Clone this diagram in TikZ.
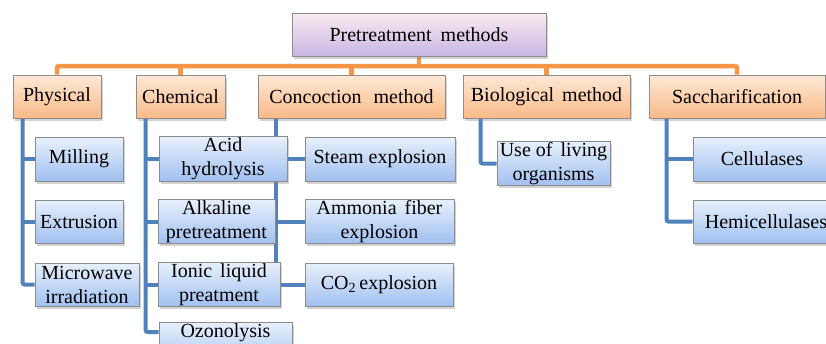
\documentclass[tikz,border=0pt]{standalone}
\usepackage{fontspec}
\setmainfont{Liberation Serif}
\usetikzlibrary{shadows,backgrounds}
\definecolor{orline}{HTML}{F79646}
\definecolor{blline}{HTML}{4F81BD}
\definecolor{bord}{HTML}{8C8C8C}
\tikzset{
  basebox/.style={draw=bord, line width=0.9pt, inner sep=1pt, align=center,
    font=\fontsize{20}{24}\selectfont,
    drop shadow={opacity=0.35, shadow xshift=2pt, shadow yshift=-2.5pt}},
  purplebox/.style={basebox, top color=purple!8!white, bottom color={rgb,255:red,200;green,182;blue,228}},
  orangebox/.style={basebox, top color={rgb,255:red,254;green,232;blue,214}, bottom color={rgb,255:red,250;green,186;blue,136}},
  bluebox/.style={basebox, top color={rgb,255:red,232;green,240;blue,252}, bottom color={rgb,255:red,160;green,192;blue,240}},
  oline/.style={draw=orline, line width=4.5pt, rounded corners=2pt},
  bline/.style={draw=blline, line width=4pt, rounded corners=2pt},
}
\begin{document}
\begin{tikzpicture}[x=1pt, y=-1pt]
\useasboundingbox (0,0) rectangle (826,343);
% top
\node[purplebox, minimum width=254pt, minimum height=43pt] (top) at (419,34.5) {Pretreatment\hspace{4pt} methods};
% level 1
\node[orangebox, minimum width=88pt, minimum height=43pt] (phys) at (57,96.5) {Physical};
\node[orangebox, minimum width=89pt, minimum height=43pt] (chem) at (180.5,96.5) {Chemical};
\node[orangebox, minimum width=187pt, minimum height=43pt] (conc) at (351.5,96.5) {Concoction\hspace{7pt} method};
\node[orangebox, minimum width=167pt, minimum height=43pt] (bio) at (546.5,96.5) {Biological\hspace{3pt} method};
\node[orangebox, minimum width=176pt, minimum height=43pt] (sacc) at (737,96.5) {Saccharification};
% physical
\node[bluebox, minimum width=88pt, minimum height=44pt] (mill) at (79,159) {Milling};
\node[bluebox, minimum width=88pt, minimum height=43pt] (extr) at (79,221.5) {Extrusion};
\node[bluebox, minimum width=104pt, minimum height=43pt] (micro) at (87,284.5) {Microwave\\irradiation};
% chemical
\node[bluebox, minimum width=128pt, minimum height=44pt] (acid) at (223,159) {Acid\\hydrolysis};
\node[bluebox, minimum width=117pt, minimum height=43pt] (alk) at (216.5,221.5) {Alkaline\\pretreatment};
\node[bluebox, minimum width=122pt, minimum height=43pt] (ionic) at (219,284.5) {Ionic\hspace{3pt} liquid\\preatment};
\node[bluebox, minimum width=133pt, minimum height=43pt, anchor=north, text depth=30pt] (ozon) at (225.5,322) {Ozonolysis};
% concoction
\node[bluebox, minimum width=150pt, minimum height=44pt] (steam) at (380,159) {Steam explosion};
\node[bluebox, minimum width=149pt, minimum height=43pt] (ammo) at (379.5,221.5) {Ammonia\hspace{3pt} fiber\\explosion};
\node[bluebox, minimum width=148pt, minimum height=43pt] (co2) at (379,284.5) {CO\textsubscript{2}\,explosion};
% biological
\node[bluebox, minimum width=113pt, minimum height=43pt] (use) at (553.5,163.5) {Use of\hspace{3pt} living\\organisms};
% saccharification
\node[bluebox, minimum width=138pt, minimum height=44pt] (cell) at (762,159) {Cellulases};
\node[bluebox, minimum width=146pt, minimum height=43pt] (hemi) at (766,221.5) {Hemicellulases};

\begin{pgfonlayer}{background}
  \coordinate (bus) at (419,66);
  \draw[oline] (top.south) -- (bus);
  \draw[oline] (phys.north) |- (bus);
  \draw[oline] (sacc.north) |- (bus);
  \draw[oline] (chem.north) -- (chem.north |- bus);
  \draw[oline] (conc.north) -- (conc.north |- bus);
  \draw[oline] (bio.north) -- (bio.north |- bus);
  % physical
  \coordinate (pt) at ([xshift=10pt]phys.south west);
  \draw[bline] (pt) |- (micro.west);
  \draw[bline] (pt |- mill.west) -- (mill.west);
  \draw[bline] (pt |- extr.west) -- (extr.west);
  % chemical
  \coordinate (ctk) at ([xshift=10pt]chem.south west);
  \coordinate (oz) at ([yshift=-10pt]ozon.north west);
  \draw[bline] (ctk) |- (oz);
  \draw[bline] (ctk |- acid.west) -- (acid.west);
  \draw[bline] (ctk |- alk.west) -- (alk.west);
  \draw[bline] (ctk |- ionic.west) -- (ionic.west);
  % concoction
  \coordinate (ktk) at ([xshift=18pt]conc.south west);
  \draw[bline] (ktk) -- (ktk |- ionic.north);
  \draw[bline] (acid.east) -- (steam.west);
  \draw[bline] (ktk |- ammo.west) -- (ammo.west);
  \draw[bline] (ionic.east) -- (co2.west);
  % biological
  \coordinate (btk) at ([xshift=18pt]bio.south west);
  \draw[bline] (btk) |- (use.west);
  % saccharification
  \coordinate (stk) at ([xshift=18pt]sacc.south west);
  \draw[bline] (stk) |- (hemi.west);
  \draw[bline] (stk |- cell.west) -- (cell.west);
\end{pgfonlayer}
\end{tikzpicture}
\end{document}
